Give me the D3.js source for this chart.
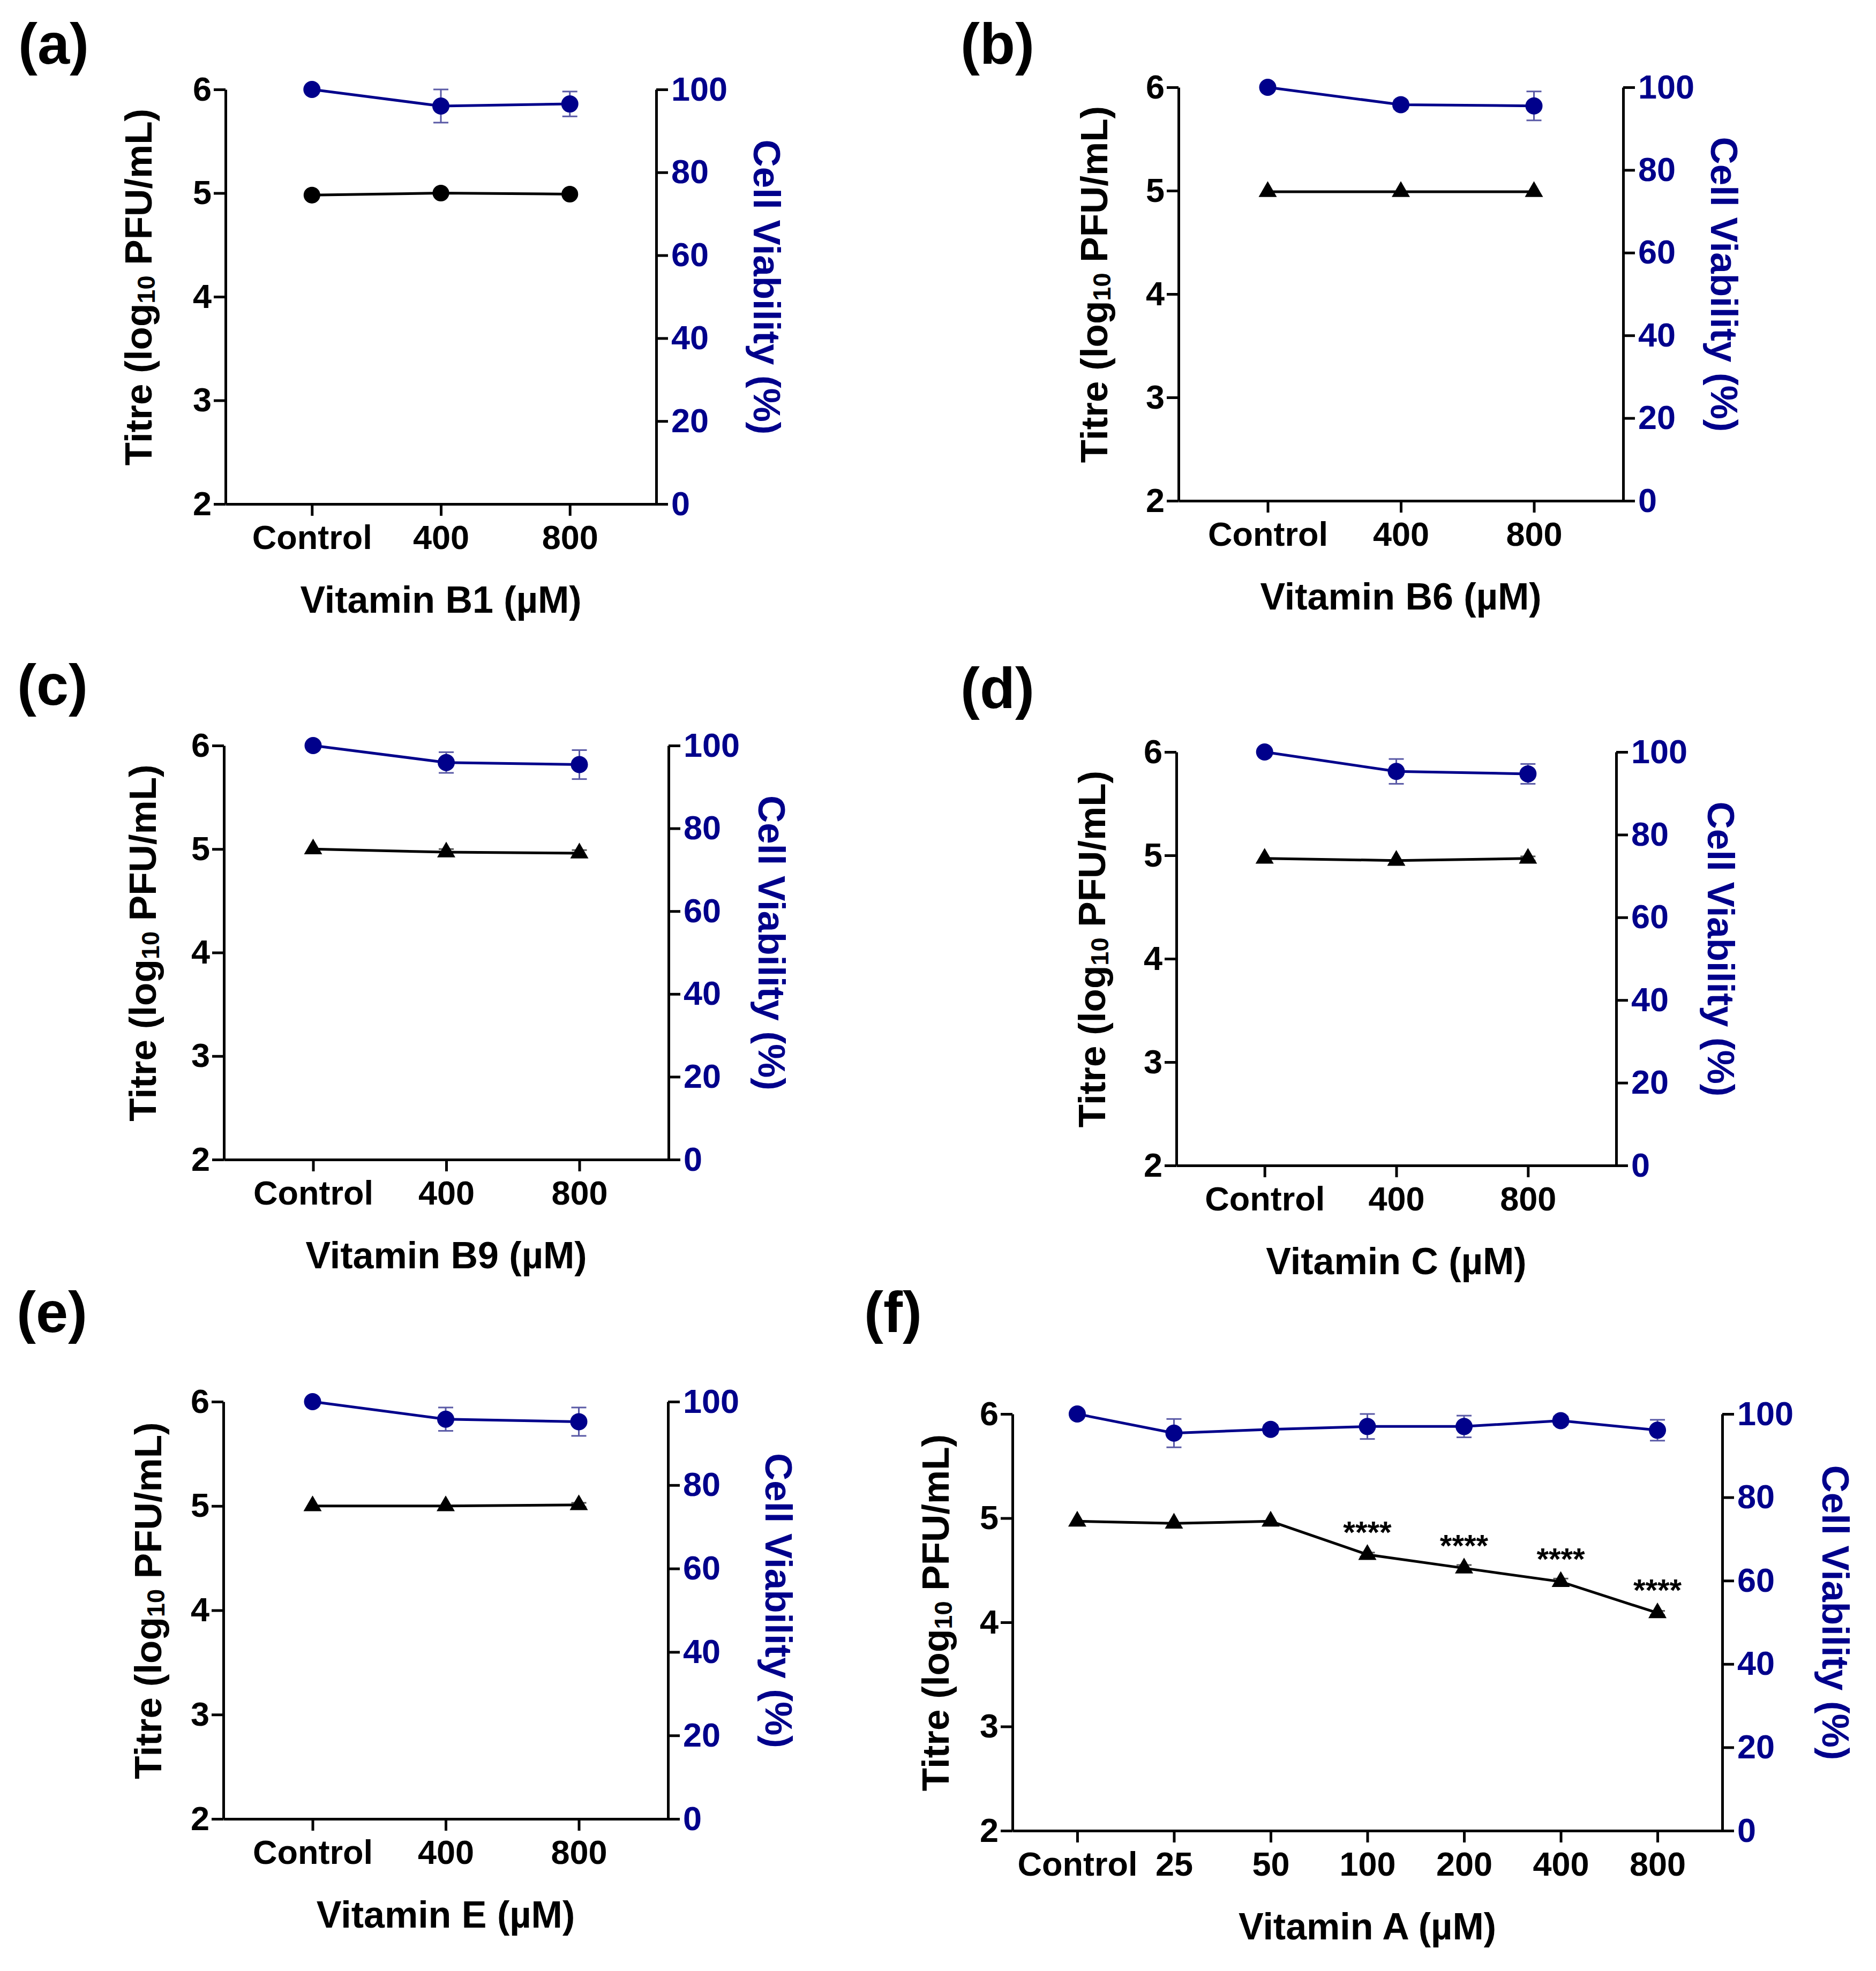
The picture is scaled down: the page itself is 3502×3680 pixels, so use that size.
<!DOCTYPE html>
<html><head><meta charset="utf-8">
<script src="https://cdn.jsdelivr.net/npm/d3@7"></script>
<style>
body{margin:0;background:#fff}
text{font-family:"Liberation Sans",Arial,Helvetica,sans-serif;font-weight:bold}
</style>
</head><body>
<svg id="fig" width="3502" height="3680"></svg>
<script>
// ---------------- data ----------------
const panelLabels = ["(a)", "(b)", "(c)", "(d)", "(e)", "(f)"];
const xTitles = ["Vitamin B1 (µM)", "Vitamin B6 (µM)", "Vitamin B9 (µM)", "Vitamin C (µM)", "Vitamin E (µM)", "Vitamin A (µM)"];
const catsShort = ["Control", "400", "800"];
const catsA = ["Control", "25", "50", "100", "200", "400", "800"];
const titreTicks = [2, 3, 4, 5, 6];
const viabTicks = [0, 20, 40, 60, 80, 100];

const titreB1 = [4.98, 5.00, 4.99];
const titreB6 = [4.99, 4.99, 4.99];
const titreB9 = [5.00, 4.97, 4.96];
const titreC  = [4.97, 4.95, 4.97];
const titreE  = [5.00, 5.00, 5.01];
const titreA  = [4.97, 4.95, 4.97, 4.65, 4.52, 4.39, 4.09];

const titreErrB1 = [0, 0, 0];
const titreErrB6 = [0, 0, 0];
const titreErrB9 = [0, 0.03, 0.03];
const titreErrC  = [0, 0, 0.02];
const titreErrE  = [0, 0, 0.02];
const titreErrA  = [0, 0, 0, 0.02, 0.03, 0.03, 0.02];

const viabB1 = [100, 96.0, 96.5];
const viabB6 = [100, 95.8, 95.5];
const viabB9 = [100, 95.9, 95.4];
const viabC  = [100, 95.3, 94.7];
const viabE  = [100, 95.8, 95.2];
const viabA  = [100, 95.4, 96.3, 97.0, 97.0, 98.4, 96.1];

const viabErrB1 = [0, 4.0, 3.0];
const viabErrB6 = [0, 1.0, 3.5];
const viabErrB9 = [0, 2.5, 3.5];
const viabErrC  = [0, 3.0, 2.4];
const viabErrE  = [0, 2.8, 3.4];
const viabErrA  = [0, 3.4, 1.0, 3.0, 2.6, 1.0, 2.5];

const sigA = ["", "", "", "****", "****", "****", "****"];
const sigNone = ["", "", ""];

const markers = ["circle", "triangle", "triangle", "triangle", "triangle", "triangle"];

// ---------------- layout (positions only) ----------------
const layout = [
  {L: 421,  R: 1225, T: 167,  B: 941,  lx: 34,   ly: 119,  ltx: 258,  rtx: 1431},
  {L: 2200, R: 3030, T: 163,  B: 935,  lx: 1793, ly: 119,  ltx: 2042, rtx: 3218},
  {L: 418,  R: 1248, T: 1392, B: 2165, lx: 32,   ly: 1316, ltx: 266,  rtx: 1440},
  {L: 2196, R: 3017, T: 1404, B: 2176, lx: 1793, ly: 1322, ltx: 2038, rtx: 3212},
  {L: 417,  R: 1247, T: 2617, B: 3396, lx: 31,   ly: 2487, ltx: 276,  rtx: 1453},
  {L: 1890, R: 3215, T: 2640, B: 3418, lx: 1613, ly: 2487, ltx: 1746, rtx: 3426}
];

const series = [
  {cats: catsShort, titre: titreB1, tErr: titreErrB1, viab: viabB1, vErr: viabErrB1, sig: sigNone},
  {cats: catsShort, titre: titreB6, tErr: titreErrB6, viab: viabB6, vErr: viabErrB6, sig: sigNone},
  {cats: catsShort, titre: titreB9, tErr: titreErrB9, viab: viabB9, vErr: viabErrB9, sig: sigNone},
  {cats: catsShort, titre: titreC,  tErr: titreErrC,  viab: viabC,  vErr: viabErrC,  sig: sigNone},
  {cats: catsShort, titre: titreE,  tErr: titreErrE,  viab: viabE,  vErr: viabErrE,  sig: sigNone},
  {cats: catsA,     titre: titreA,  tErr: titreErrA,  viab: viabA,  vErr: viabErrA,  sig: sigA}
];

const BLUE = "#00008b";
const BLACK = "#000";
const ERRBLUE = "#5a5aa6";
const svg = d3.select("#fig");
svg.append("rect").attr("width", 3502).attr("height", 3680).attr("fill", "#fff");

layout.forEach((p, i) => {
  const s = series[i];
  const g = svg.append("g");
  const x = d3.scalePoint().domain(s.cats).range([p.L, p.R]).padding(0.67);
  const yL = d3.scaleLinear().domain([2, 6]).range([p.B, p.T]);
  const yR = d3.scaleLinear().domain([0, 100]).range([p.B, p.T]);
  const mid = (p.T + p.B) / 2 - 18;

  // panel label
  g.append("text").attr("x", p.lx).attr("y", p.ly).attr("font-size", 108).attr("fill", BLACK).text(panelLabels[i]);

  // axes
  const ax = (sel, col) => {
    sel.selectAll("path,line").attr("stroke", BLACK).attr("stroke-width", 5);
    sel.selectAll("text").attr("font-size", 63).attr("font-weight", "bold")
      .attr("font-family", "'Liberation Sans',Arial,sans-serif").attr("fill", col);
  };
  g.append("g").attr("transform", `translate(${p.L},0)`)
    .call(d3.axisLeft(yL).tickValues(titreTicks).tickFormat(d3.format("d")).tickSize(22).tickSizeOuter(0).tickPadding(4))
    .call(sel => ax(sel, BLACK));
  g.append("g").attr("transform", `translate(${p.R},0)`)
    .call(d3.axisRight(yR).tickValues(viabTicks).tickFormat(d3.format("d")).tickSize(22).tickSizeOuter(0).tickPadding(6))
    .call(sel => ax(sel, BLUE));
  g.append("g").attr("transform", `translate(0,${p.B})`)
    .call(d3.axisBottom(x).tickSize(22).tickSizeOuter(0).tickPadding(17))
    .call(sel => ax(sel, BLACK));

  // axis titles
  const lt = g.append("text").attr("transform", `translate(${p.ltx},${mid}) rotate(-90)`)
    .attr("text-anchor", "middle").attr("dominant-baseline", "central").attr("font-size", 71).attr("fill", BLACK);
  lt.append("tspan").text("Titre (log");
  lt.append("tspan").attr("font-size", 47).attr("dy", 14).text("10");
  lt.append("tspan").attr("dy", -14).text(" PFU/mL)");

  g.append("text").attr("transform", `translate(${p.rtx},${mid}) rotate(90)`)
    .attr("text-anchor", "middle").attr("dominant-baseline", "central").attr("font-size", 71).attr("fill", BLUE)
    .text("Cell Viability (%)");

  g.append("text").attr("x", (p.L + p.R) / 2).attr("y", p.B + 203).attr("text-anchor", "middle")
    .attr("font-size", 70).attr("fill", BLACK).text(xTitles[i]);

  const idx = d3.range(s.cats.length);

  // viability error bars
  const eb = g.append("g").attr("stroke", ERRBLUE).attr("stroke-width", 3).attr("fill", "none");
  idx.filter(k => s.vErr[k] > 0).forEach(k => {
    const cx = x(s.cats[k]);
    const y1 = yR(s.viab[k] + s.vErr[k]), y2 = yR(s.viab[k] - s.vErr[k]);
    eb.append("line").attr("x1", cx).attr("x2", cx).attr("y1", y1).attr("y2", y2);
    eb.append("line").attr("x1", cx - 14).attr("x2", cx + 14).attr("y1", y1).attr("y2", y1);
    eb.append("line").attr("x1", cx - 14).attr("x2", cx + 14).attr("y1", y2).attr("y2", y2);
  });
  // titre error bars
  const tb = g.append("g").attr("stroke", "#555").attr("stroke-width", 3).attr("fill", "none");
  idx.filter(k => s.tErr[k] > 0).forEach(k => {
    const cx = x(s.cats[k]);
    const y1 = yL(s.titre[k] + s.tErr[k]), y2 = yL(s.titre[k] - s.tErr[k]);
    tb.append("line").attr("x1", cx).attr("x2", cx).attr("y1", y1).attr("y2", y2);
    tb.append("line").attr("x1", cx - 14).attr("x2", cx + 14).attr("y1", y1).attr("y2", y1);
    tb.append("line").attr("x1", cx - 14).attr("x2", cx + 14).attr("y1", y2).attr("y2", y2);
  });

  // lines
  g.append("path").datum(idx).attr("fill", "none").attr("stroke", BLUE).attr("stroke-width", 5)
    .attr("d", d3.line().x(k => x(s.cats[k])).y(k => yR(s.viab[k])));
  g.append("path").datum(idx).attr("fill", "none").attr("stroke", BLACK).attr("stroke-width", 5)
    .attr("d", d3.line().x(k => x(s.cats[k])).y(k => yL(s.titre[k])));

  // markers
  g.selectAll(".vm").data(idx).enter().append("circle")
    .attr("cx", k => x(s.cats[k])).attr("cy", k => yR(s.viab[k])).attr("r", 16).attr("fill", BLUE);
  const sym = markers[i] === "circle" ? d3.symbol().type(d3.symbolCircle).size(760)
                                      : d3.symbol().type(d3.symbolTriangle).size(500);
  g.selectAll(".tm").data(idx).enter().append("path")
    .attr("transform", k => `translate(${x(s.cats[k])},${yL(s.titre[k])})`)
    .attr("d", sym).attr("fill", BLACK);

  // significance stars
  g.selectAll(".sig").data(idx.filter(k => s.sig[k])).enter().append("text")
    .attr("x", k => x(s.cats[k])).attr("y", k => yL(s.titre[k]) - 22)
    .attr("text-anchor", "middle").attr("font-size", 58).attr("font-weight", "normal").attr("fill", BLACK)
    .text(k => s.sig[k]);
});
</script>
</body></html>
